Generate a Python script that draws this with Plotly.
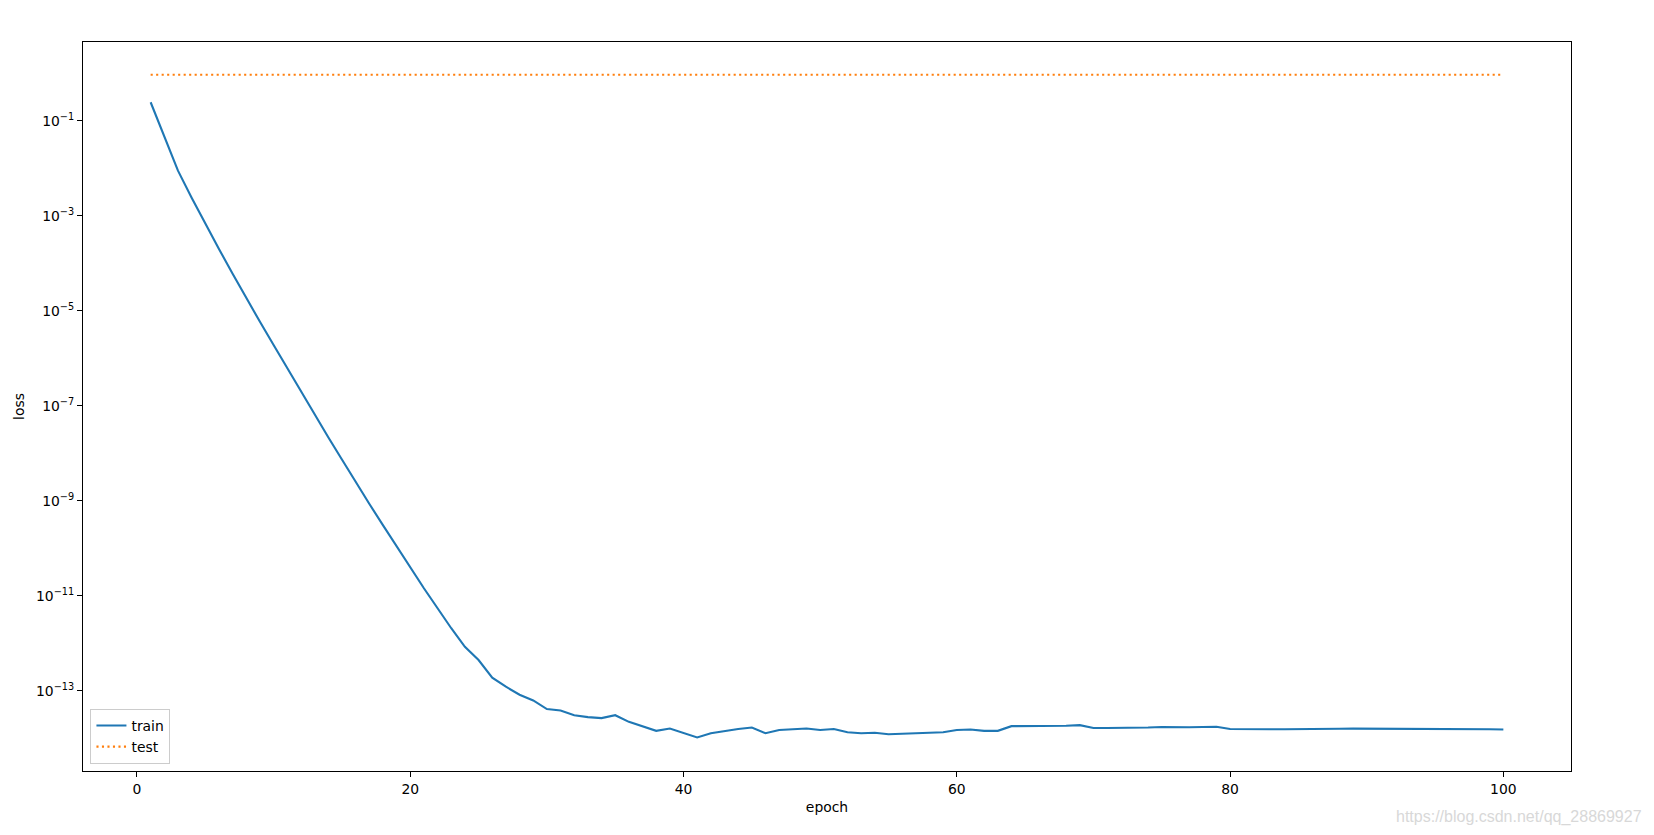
import plotly.graph_objects as go

# ---- data ----
epochs = list(range(1, 101))

train_loss = [
    2.45e-1, 4.47e-2, 8.91e-3, 2.40e-3, 6.76e-4, 2.00e-4, 6.03e-5, 1.86e-5, 5.89e-6, 1.91e-6,
    6.17e-7, 2.00e-7, 6.61e-8, 2.19e-8, 7.41e-9, 2.51e-9, 8.71e-10, 3.09e-10, 1.10e-10, 3.98e-11,
    1.45e-11, 5.50e-12, 2.09e-12, 8.51e-13, 4.47e-13, 1.91e-13, 1.23e-13, 8.32e-14, 6.31e-14, 4.17e-14,
    3.89e-14, 3.09e-14, 2.82e-14, 2.69e-14, 3.09e-14, 2.24e-14, 1.78e-14, 1.45e-14, 1.62e-14, 1.32e-14,
    1.05e-14, 1.29e-14, 1.45e-14, 1.58e-14, 1.70e-14, 1.29e-14, 1.51e-14, 1.55e-14, 1.62e-14, 1.51e-14,
    1.58e-14, 1.35e-14, 1.29e-14, 1.32e-14, 1.23e-14, 1.26e-14, 1.29e-14, 1.35e-14, 1.35e-14, 1.51e-14,
    1.55e-14, 1.45e-14, 1.45e-14, 1.82e-14, 1.82e-14, 1.81e-14, 1.81e-14, 1.86e-14, 1.91e-14, 1.66e-14,
    1.66e-14, 1.66e-14, 1.66e-14, 1.70e-14, 1.74e-14, 1.70e-14, 1.72e-14, 1.74e-14, 1.76e-14, 1.58e-14,
    1.56e-14, 1.57e-14, 1.57e-14, 1.57e-14, 1.59e-14, 1.58e-14, 1.58e-14, 1.60e-14, 1.61e-14, 1.61e-14,
    1.61e-14, 1.61e-14, 1.61e-14, 1.58e-14, 1.58e-14, 1.58e-14, 1.59e-14, 1.56e-14, 1.56e-14, 1.55e-14,
]

test_loss = [0.93] * 100

x_ticks = [0, 20, 40, 60, 80, 100]
y_tick_vals = [1e-1, 1e-3, 1e-5, 1e-7, 1e-9, 1e-11, 1e-13]
y_tick_text = ["10<sup>\u22121</sup>", "10<sup>\u22123</sup>", "10<sup>\u22125</sup>",
               "10<sup>\u22127</sup>", "10<sup>\u22129</sup>", "10<sup>\u221211</sup>",
               "10<sup>\u221213</sup>"]

# ---- figure ----
FONT = "DejaVu Sans"
fig = go.Figure()
fig.add_trace(go.Scatter(x=epochs, y=train_loss, mode="lines", name="train",
                         line=dict(color="#1f77b4", width=2.1)))
fig.add_trace(go.Scatter(x=epochs, y=test_loss, mode="lines", name="test",
                         line=dict(color="#ff7f0e", width=2.1, dash="2.1px,3.4px")))

# page body has an 8px margin, so the figure is sized/offset to compensate
OFF = 8
W, H = 1654 - 2 * OFF, 835 - 2 * OFF
L, R, T, B = 83.3 - OFF, 1571.5 - OFF, 42.3 - OFF, 771.0 - OFF

axis_common = dict(showgrid=False, zeroline=False, showline=True, mirror=True,
                   linecolor="black", linewidth=1.1, ticks="outside", ticklen=5,
                   tickwidth=1.1, tickcolor="black",
                   tickfont=dict(family=FONT, size=13.9, color="black"))

fig.update_layout(
    width=W, height=H,
    margin=dict(l=L, r=W - R, t=T, b=H - B, autoexpand=False),
    paper_bgcolor="white", plot_bgcolor="white",
    font=dict(family=FONT, size=13.9, color="black"),
    xaxis=dict(range=[-3.95, 104.95], tickvals=x_ticks,
               title=dict(text="epoch", font=dict(family=FONT, size=13.9), standoff=6),
               **axis_common),
    yaxis=dict(type="log", range=[-14.684, 0.657], tickvals=y_tick_vals, ticktext=y_tick_text,
               title=dict(text="loss", font=dict(family=FONT, size=13.9), standoff=8),
               **axis_common),
    legend=dict(x=0.005, y=0.0096, xanchor="left", yanchor="bottom",
                bgcolor="rgba(255,255,255,0.8)", bordercolor="#cccccc", borderwidth=1,
                font=dict(family=FONT, size=13.9), tracegroupgap=0, itemwidth=30),
    showlegend=True,
)

fig.add_annotation(text="https://blog.csdn.net/qq_28869927", xref="paper", yref="paper",
                   x=(1645 - OFF - L) / (R - L), y=(B - (817 - OFF)) / (B - T),
                   xanchor="right", yanchor="middle", showarrow=False,
                   font=dict(family="Liberation Sans Narrow, Liberation Sans, sans-serif",
                             size=16, color="#d8d8d8"))

fig.write_html("out.html")
